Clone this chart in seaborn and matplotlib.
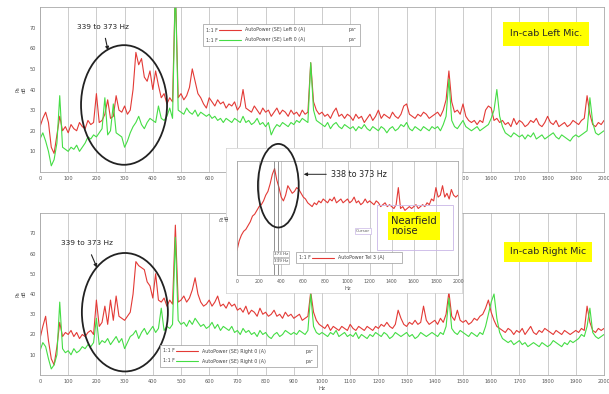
import numpy as np
import pandas as pd
import matplotlib
matplotlib.use("Agg")
import matplotlib.pyplot as plt
import seaborn as sns
from matplotlib.patches import Ellipse, Rectangle
from matplotlib.lines import Line2D

sns.set_style("white")
plt.rcParams['font.family'] = ['DejaVu Sans']

# spectra in dB, 10 Hz steps from 0 to 2000 Hz (one row = 100 Hz)
freq = np.arange(0, 2001, 10)
top_red = [
    22, 26, 29, 24, 12, 9, 18, 27, 20, 22,
    19, 23, 21, 20, 24, 22, 21, 25, 23, 24,
    38, 24, 25, 28, 35, 26, 27, 37, 30, 29,
    32, 28, 30, 40, 58, 52, 55, 46, 44, 49,
    40, 49, 42, 36, 38, 33, 36, 34, 90, 36,
    38, 35, 37, 41, 50, 44, 38, 36, 33, 31,
    36, 34, 32, 35, 33, 34, 31, 33, 32, 34,
    30, 32, 40, 31, 30, 29, 32, 30, 28, 31,
    29, 30, 27, 29, 31, 28, 30, 29, 27, 30,
    28, 29, 27, 30, 28, 29, 53, 34, 30, 28,
    29, 27, 28, 26, 29, 31, 27, 28, 26, 28,
    27, 25, 28, 26, 27, 24, 26, 28, 25, 27,
    30, 26, 28, 27, 26, 29, 27, 26, 28, 32,
    33, 28, 27, 26, 28, 27, 29, 28, 26, 27,
    28, 29, 27, 30, 35, 49, 34, 29, 30, 28,
    33, 27, 25, 24, 25, 23, 25, 24, 30, 32,
    31, 25, 26, 24, 25, 23, 24, 22, 26, 23,
    25, 24, 22, 23, 25, 24, 26, 23, 22, 24,
    27, 24, 23, 25, 22, 23, 24, 22, 23, 25,
    24, 23, 25, 26, 37, 28, 23, 22, 24, 23,
    25]
top_green = [
    16, 19, 15, 10, 3, 6, 14, 37, 12, 11,
    10, 12, 11, 13, 10, 12, 14, 17, 16, 18,
    17, 19, 21, 36, 18, 20, 33, 19, 18, 17,
    12, 15, 19, 22, 24, 27, 23, 21, 24, 26,
    25, 24, 32, 26, 25, 27, 31, 26, 90, 30,
    29, 28, 31, 29, 28, 30, 27, 29, 28, 27,
    28, 26, 27, 25, 26, 24, 26, 25, 24, 26,
    25, 24, 27, 24, 25, 23, 24, 26, 23, 24,
    22, 24, 18, 21, 23, 22, 24, 23, 22, 24,
    23, 25, 24, 26, 25, 24, 53, 30, 25, 24,
    23, 22, 24, 21, 23, 24, 22, 21, 23, 22,
    21, 22, 20, 22, 21, 23, 21, 20, 22, 21,
    20, 22, 21, 19, 21, 22, 20, 21, 23, 22,
    24, 21, 20, 22, 21, 20, 22, 21, 20, 22,
    21, 22, 20, 23, 27, 45, 25, 22, 21, 23,
    25, 22, 21, 20, 21, 22, 20, 21, 22, 23,
    26, 30, 40, 27, 22, 19, 18, 17, 19, 18,
    17, 18, 16, 18, 17, 19, 16, 17, 18, 16,
    17, 18, 19, 17, 16, 18, 17, 16, 15, 17,
    18, 17, 18, 19, 20, 36, 24, 19, 18, 19,
    20]
bot_red = [
    18, 24, 29, 17, 8, 5, 14, 26, 19, 21,
    20, 22, 19, 21, 18, 20, 19, 21, 22, 20,
    37, 24, 26, 34, 25, 37, 27, 39, 29, 28,
    27, 29, 31, 40, 56, 54, 53, 52, 46, 44,
    38, 50, 37, 36, 38, 34, 37, 35, 74, 36,
    37, 39, 36, 38, 42, 48, 40, 36, 34, 35,
    37, 34, 36, 39, 34, 35, 33, 36, 34, 35,
    32, 33, 31, 34, 30, 32, 31, 29, 33, 30,
    31, 29, 30, 32, 29, 30, 28, 31, 29, 30,
    28, 29, 30, 27, 28, 29, 41, 31, 27, 25,
    24, 23, 25, 22, 24, 23, 22, 24, 23, 22,
    25, 23, 22, 24, 23, 22, 24, 23, 22, 24,
    23, 25, 24, 26, 24, 23, 25, 32, 28, 25,
    24, 26, 25, 27, 25, 26, 34, 27, 25, 26,
    27, 25, 28, 26, 30, 41, 29, 27, 32, 27,
    26, 27, 25, 26, 28, 27, 29, 30, 33, 37,
    31, 27, 24, 23, 22, 21, 23, 22, 20, 22,
    21, 23, 20, 22, 24, 21, 20, 22, 21, 23,
    22, 21, 20, 22, 21, 20, 22, 21, 20, 21,
    22, 21, 23, 22, 34, 26, 22, 21, 23, 22,
    23]
bot_green = [
    12, 16, 14, 8, 3, 5, 10, 36, 13, 11,
    12, 10, 13, 11, 12, 14, 13, 15, 14, 16,
    28, 15, 17, 16, 18, 15, 17, 19, 16, 18,
    13, 16, 19, 20, 22, 18, 21, 23, 20, 22,
    24, 21, 23, 33, 22, 24, 23, 25, 68, 27,
    25, 26, 24, 27, 25, 28, 26, 24, 25, 23,
    24, 26, 23, 25, 22, 24, 23, 22, 24, 21,
    22, 20, 23, 21, 22, 20, 21, 19, 22, 20,
    21, 19, 18, 20, 21, 19, 20, 22, 21, 20,
    21, 20, 22, 21, 20, 22, 40, 24, 21, 20,
    21, 20, 19, 21, 20, 22, 19, 20, 21, 19,
    20, 19, 21, 18, 20, 19, 18, 20, 19, 21,
    20, 19, 21, 20, 18, 19, 21, 20, 19, 20,
    21, 19, 20, 18, 19, 21, 20, 19, 20, 21,
    20, 19, 21, 20, 24, 38, 23, 21, 20, 22,
    21, 20, 19, 21, 20, 19, 21, 20, 24, 30,
    36, 40, 28, 21, 18, 17, 16, 17, 15, 16,
    17, 15, 16, 14, 15, 16, 15, 14, 16, 15,
    14, 15, 17, 16, 15, 14, 16, 15, 17, 16,
    17, 18, 20, 19, 24, 33, 21, 19, 18, 19,
    20]

# nearfield spectrum (inset), 20 Hz steps
freq_in = np.arange(0, 2001, 20)
near_red = [
    13, 18, 21, 23, 24, 26, 28, 31, 32, 34,
    36, 37, 39, 42, 44, 48, 53, 56, 50, 46,
    41, 39, 42, 47, 45, 43, 44, 46, 45, 43,
    41, 40, 38, 37, 36, 38, 37, 39, 38, 40,
    39, 38, 40, 39, 41, 38, 39, 40, 38, 39,
    40, 38, 39, 41, 38, 39, 37, 38, 40, 38,
    39, 38, 37, 39, 38, 36, 37, 38, 36, 37,
    36, 35, 37, 46, 35, 36, 34, 35, 36, 35,
    36, 37, 35, 36, 37, 36, 38, 37, 40, 39,
    46, 41, 42, 47, 41, 43, 40, 45, 42, 41,
    42]

RED = '#e33a36'
GREEN = '#45dd45'
W, H = 609, 394


def rect(l, t, r, b):
    return [l / W, 1 - b / H, (r - l) / W, (b - t) / H]


def fx(x):
    return x / W


def fy(y):
    return 1 - y / H


def style_axes(ax, step, fs):
    ax.set_xlim(0, 2000)
    ax.set_xticks(range(0, 2001, step))
    ax.tick_params(axis='both', labelsize=fs, length=1.5, width=0.4,
                   colors='#555555', pad=1.5)
    ax.xaxis.grid(True, color='#c4c4c4', lw=0.6)
    for s in ax.spines.values():
        s.set_color('#a8a8a8')
        s.set_linewidth(0.6)


def panel(ax, red, green):
    df = pd.DataFrame({
        'Hz': np.concatenate([freq, freq]),
        'dB': red + green,
        'trace': ['red'] * len(red) + ['green'] * len(green),
    })
    sns.lineplot(data=df, x='Hz', y='dB', hue='trace',
                 palette={'red': RED, 'green': GREEN}, lw=0.8,
                 estimator=None, legend=False, ax=ax)
    style_axes(ax, 100, 3.6)
    ax.set_ylim(0, 80)
    ax.set_yticks(range(10, 71, 10))
    ax.set_ylabel('Pa\ndB', fontsize=3.6, color='#555555', labelpad=2)
    ax.set_xlabel('Hz', fontsize=4, color='#555555', labelpad=1)


def legend_box(x0, y0, x1, y1, rows):
    fig.patches.append(Rectangle((fx(x0), fy(y1)), (x1 - x0) / W, (y1 - y0) / H,
                                 transform=fig.transFigure, fc='white',
                                 ec='#9a9a9a', lw=0.5, zorder=10))
    for y, col, label, unit in rows:
        fig.text(fx(x0 + 3), fy(y), '1:1 F', fontsize=3.4, va='center', color='#444', zorder=11)
        fig.lines.append(Line2D([fx(x0 + 16), fx(x0 + 38)], [fy(y), fy(y)],
                                transform=fig.transFigure, color=col, lw=0.8, zorder=11))
        fig.text(fx(x0 + 42), fy(y), label, fontsize=3.4, va='center', color='#444', zorder=11)
        if unit:
            fig.text(fx(x1 - 4), fy(y), unit, fontsize=3.4, va='center', ha='right',
                     color='#444', zorder=11)


fig = plt.figure(figsize=(W / 100, H / 100), dpi=100)

# top panel: left mic
ax_top = fig.add_axes(rect(40, 7, 604, 172))
panel(ax_top, top_red, top_green)
# labels under the inset are hidden in the reference
ax_top.set_xticklabels([str(t) if (t < 700 or t > 1450) else '' for t in range(0, 2001, 100)])
ax_top.set_xlabel('')
ax_top.add_patch(Ellipse((298, 32.5), 305, 58, fill=False, ec='#222222', lw=1.3, zorder=5))
ax_top.annotate('339 to 373 Hz', xy=(241, 59), xytext=(223, 70.5), fontsize=5.3,
                ha='center', va='center', color='#222',
                arrowprops=dict(arrowstyle='-|>', color='#222', lw=0.8, mutation_scale=5,
                                shrinkA=4, shrinkB=0))
legend_box(203, 24, 360, 46, [(30, RED, 'AutoPower (SE) Left 0 (A)', 'pa\u00b2'),
                              (40, GREEN, 'AutoPower (SE) Left 0 (A)', 'pa\u00b2')])
fig.text(fx(546), fy(34), 'In-cab Left Mic.', fontsize=6.8, ha='center', va='center',
         bbox=dict(boxstyle='square,pad=0.75', fc='#ffff00', ec='none'))

# bottom panel: right mic
ax_bot = fig.add_axes(rect(40, 213, 604, 375))
panel(ax_bot, bot_red, bot_green)
ax_bot.add_patch(Ellipse((301, 31), 305, 58.5, fill=False, ec='#222222', lw=1.3, zorder=5))
ax_bot.annotate('339 to 373 Hz', xy=(202, 53), xytext=(165, 65), fontsize=5.3,
                ha='center', va='center', color='#222',
                arrowprops=dict(arrowstyle='-|>', color='#222', lw=0.8, mutation_scale=5,
                                shrinkA=4, shrinkB=0))
legend_box(160, 345, 317, 367, [(351, RED, 'AutoPower (SE) Right 0 (A)', 'pa\u00b2'),
                                (361, GREEN, 'AutoPower (SE) Right 0 (A)', 'pa\u00b2')])
fig.text(fx(548), fy(252), 'In-cab Right Mic', fontsize=6.8, ha='center', va='center',
         bbox=dict(boxstyle='square,pad=0.6', fc='#ffff00', ec='none'))

# inset: nearfield measurement
ax_bg = fig.add_axes(rect(226, 148, 462, 293))
ax_bg.set_xticks([])
ax_bg.set_yticks([])
ax_bg.set_facecolor('white')
for s in ax_bg.spines.values():
    s.set_color('#cfcfcf')
    s.set_linewidth(0.5)

ax_in = fig.add_axes(rect(237, 161, 458, 275))
df_in = pd.DataFrame({'Hz': freq_in, 'dB': near_red})
sns.lineplot(data=df_in, x='Hz', y='dB', color=RED, lw=0.8, estimator=None, ax=ax_in)
style_axes(ax_in, 200, 3.3)
ax_in.set_ylim(0, 60)
ax_in.set_yticks(range(5, 60, 5))
ax_in.set_yticklabels([])
ax_in.set_ylabel('Pa\ndB', fontsize=3.4, color='#555555', labelpad=2)
ax_in.set_xlabel('Hz', fontsize=3.8, color='#555555', labelpad=1)
ax_in.axvline(339, color='#666666', lw=0.5)
ax_in.axvline(373, color='#666666', lw=0.5)
ax_in.add_patch(Ellipse((374, 47), 369, 44, fill=False, ec='#222222', lw=1.3,
                        zorder=5, clip_on=False))
ax_in.annotate('338 to 373 Hz', xy=(604, 53), xytext=(850, 53), fontsize=5.8,
               ha='left', va='center', color='#222',
               arrowprops=dict(arrowstyle='-|>', color='#222', lw=0.7, mutation_scale=5,
                               shrinkA=1, shrinkB=0))
for y, t in [(254, '373 Hz'), (261, '339 Hz')]:
    fig.text(fx(274), fy(y), t, fontsize=3, va='center', color='#444', zorder=11,
             bbox=dict(boxstyle='square,pad=0.15', fc='white', ec='#999999', lw=0.4))
legend_box(296, 252, 402, 263, [(257.5, RED, 'AutoPower Tel 3 (A)', '')])
fig.patches.append(Rectangle((fx(377), fy(250)), 76 / W, 45 / H, transform=fig.transFigure,
                             fill=False, ec='#c9b6e6', lw=0.6, zorder=9))
fig.text(fx(356), fy(231), 'Cursor', fontsize=3.2, va='center', color='#666', zorder=11,
         bbox=dict(boxstyle='square,pad=0.3', fc='white', ec='#c9b6e6', lw=0.5))
fig.text(fx(391), fy(226), 'Nearfield\nnoise', fontsize=7.2, ha='left', va='center',
         linespacing=1.1, zorder=12,
         bbox=dict(boxstyle='square,pad=0.35', fc='#ffff00', ec='none'))

fig.savefig('out.png', dpi=100)
